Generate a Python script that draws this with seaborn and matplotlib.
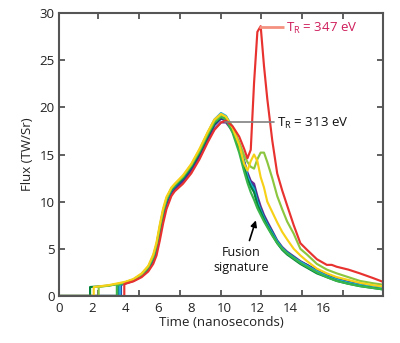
import matplotlib
matplotlib.use("Agg")
import matplotlib.pyplot as plt
import seaborn as sns
import pandas as pd

# ---------------- data ----------------
grid = [4.0, 4.5, 5.0, 5.4, 5.7, 5.9, 6.1, 6.3, 6.5, 6.8, 7.0, 7.5, 8.0, 8.5, 9.0, 9.4,
        9.8, 10.1, 10.5, 10.9, 11.2, 11.4, 11.6, 11.8, 12.0, 12.2, 12.4, 12.6, 12.9,
        13.2, 13.5, 13.8, 14.2, 14.6, 15.0, 15.6, 16.2, 16.5, 16.8, 17.5, 18.2, 19.0, 19.6]

shots = ["purple", "blue", "teal", "cyan", "darkgreen", "green", "lightgreen", "yellow", "red"]
colors = ["#662d91", "#2e3192", "#00a99d", "#27aae1", "#00843d", "#39b54a", "#8cc63f", "#f7d117", "#e8322f"]

start_x = {
    "purple": [0, 3.6, 3.6],
    "blue": [0, 3.75, 3.75],
    "teal": [0, 3.65, 3.65],
    "cyan": [0, 3.7, 3.7],
    "darkgreen": [0, 1.88, 1.88, 3.0],
    "green": [0, 3.5, 3.5],
    "lightgreen": [0, 2.4, 2.4, 3.0],
    "yellow": [0, 2.1, 2.1, 3.0],
    "red": [0, 3.95, 3.95],
}
start_y = {
    "purple": [0, 0, 1.15],
    "blue": [0, 0, 1.2],
    "teal": [0, 0, 1.2],
    "cyan": [0, 0, 1.2],
    "darkgreen": [0, 0, 0.95, 1.1],
    "green": [0, 0, 1.1],
    "lightgreen": [0, 0, 0.95, 1.1],
    "yellow": [0, 0, 0.95, 1.15],
    "red": [0, 0, 1.25],
}

flux_purple = [1.3, 1.6, 2.1, 2.8, 3.7, 4.8, 6.5, 8.3, 9.7, 10.9, 11.3, 12.1, 13.3, 14.8, 16.5, 17.7,
               18.4, 18.4, 17.5, 16.0, 14.3, 13.1, 12.2, 11.9, 10.6, 9.5, 8.6, 7.9, 6.9,
               5.9, 5.2, 4.7, 4.2, 3.7, 3.3, 2.7, 2.2, 2.0, 1.8, 1.5, 1.2, 1.0, 0.85]
flux_blue = [1.35, 1.65, 2.2, 2.9, 3.9, 5.0, 6.8, 8.6, 9.9, 11.1, 11.5, 12.3, 13.5, 15.0, 16.8, 18.1,
             18.8, 18.6, 17.6, 16.0, 14.2, 12.8, 12.0, 11.6, 10.2, 9.2, 8.4, 7.7, 6.8,
             5.7, 5.0, 4.6, 4.1, 3.6, 3.3, 2.7, 2.2, 2.0, 1.8, 1.45, 1.2, 1.0, 0.85]
flux_teal = [1.4, 1.7, 2.25, 2.95, 4.0, 5.2, 7.0, 8.8, 10.1, 11.2, 11.6, 12.5, 13.7, 15.3, 17.1, 18.5,
             19.2, 19.0, 17.8, 16.0, 14.0, 12.6, 11.9, 11.4, 10.0, 9.1, 8.3, 7.6, 6.7,
             5.8, 5.1, 4.6, 4.1, 3.6, 3.2, 2.6, 2.1, 1.9, 1.75, 1.4, 1.15, 0.95, 0.8]
flux_cyan = [1.4, 1.7, 2.3, 3.0, 4.1, 5.3, 7.2, 8.9, 10.2, 11.3, 11.7, 12.6, 13.8, 15.4, 17.3, 18.7,
             19.4, 19.1, 17.9, 16.1, 14.1, 12.7, 11.8, 11.2, 9.9, 9.0, 8.2, 7.5, 6.6,
             5.7, 5.0, 4.5, 4.0, 3.6, 3.2, 2.6, 2.1, 1.9, 1.7, 1.4, 1.15, 0.95, 0.8]
flux_darkgreen = [1.4, 1.7, 2.3, 3.0, 4.1, 5.3, 7.1, 8.9, 10.2, 11.3, 11.7, 12.5, 13.7, 15.2, 17.0, 18.3,
                  19.0, 18.8, 17.5, 15.6, 13.6, 12.4, 11.6, 11.0, 9.7, 8.9, 8.1, 7.4, 6.5,
                  5.6, 4.9, 4.4, 3.9, 3.4, 3.0, 2.4, 2.0, 1.8, 1.6, 1.3, 1.05, 0.85, 0.7]
flux_green = [1.45, 1.75, 2.3, 3.05, 4.2, 5.4, 7.3, 9.0, 10.3, 11.4, 11.8, 12.6, 13.8, 15.3, 17.1, 18.4,
              19.0, 18.7, 17.3, 15.2, 13.2, 12.0, 11.0, 10.2, 9.3, 8.6, 7.9, 7.3, 6.4,
              5.6, 5.0, 4.5, 4.0, 3.5, 3.1, 2.5, 2.0, 1.8, 1.6, 1.3, 1.05, 0.85, 0.7]
flux_lightgreen = [1.45, 1.75, 2.3, 3.1, 4.2, 5.5, 7.4, 9.1, 10.3, 11.4, 11.8, 12.7, 13.9, 15.5, 17.3, 18.6,
                   19.2, 19.0, 17.9, 16.3, 14.9, 14.2, 13.7, 13.5, 14.5, 15.2, 15.2, 14.2, 12.5,
                   10.6, 9.2, 7.9, 6.6, 5.0, 4.4, 3.4, 2.8, 2.6, 2.4, 2.0, 1.6, 1.35, 1.2]
flux_yellow = [1.5, 1.8, 2.4, 3.2, 4.4, 5.7, 7.6, 9.3, 10.5, 11.5, 11.9, 12.8, 14.0, 15.6, 17.4, 18.7,
               19.3, 19.0, 17.8, 16.0, 14.0, 13.3, 14.3, 15.0, 14.3, 12.6, 11.5, 10.0, 8.9,
               7.8, 6.8, 6.0, 5.0, 4.3, 3.7, 2.9, 2.4, 2.2, 2.0, 1.7, 1.4, 1.15, 1.0]
flux_red = [1.3, 1.55, 2.0, 2.6, 3.4, 4.3, 5.9, 7.7, 9.2, 10.6, 11.1, 11.9, 13.0, 14.5, 16.3, 17.6,
            18.4, 18.6, 18.0, 16.9, 15.6, 14.6, 15.5, 22.6, 28.0, 28.6, 24.4, 20.9, 16.5,
            13.0, 11.2, 9.6, 7.5, 5.6, 4.9, 3.9, 3.3, 3.3, 3.1, 2.8, 2.4, 1.9, 1.5]

flux = {"purple": flux_purple, "blue": flux_blue, "teal": flux_teal, "cyan": flux_cyan,
        "darkgreen": flux_darkgreen, "green": flux_green, "lightgreen": flux_lightgreen,
        "yellow": flux_yellow, "red": flux_red}

x_tick_values = [0, 2, 4, 6, 8, 10, 12, 14, 16]
x_tick_marks = [2.36, 4.85, 7.33, 9.82, 12.24, 14.73, 17.21]
y_tick_values = [0, 5, 10, 15, 20, 25, 30]

# ---------------- build table ----------------
rows = []
for s in shots:
    xs = start_x[s] + grid
    ys = start_y[s] + flux[s]
    for a, b in zip(xs, ys):
        rows.append({"time": a, "flux": b, "shot": s})
df = pd.DataFrame(rows)

# ---------------- plot ----------------
sns.set_style("white")
plt.rcParams["font.family"] = ["Open Sans", "DejaVu Sans"]
plt.rcParams["mathtext.fontset"] = "custom"
plt.rcParams["mathtext.rm"] = "Open Sans"

fig = plt.figure(figsize=(4.0, 3.43), dpi=100)
ax = fig.add_axes([59 / 400, 47 / 343, 324 / 400, 283 / 343])

sns.lineplot(data=df, x="time", y="flux", hue="shot", hue_order=shots,
             palette=dict(zip(shots, colors)), estimator=None, sort=False,
             units="shot", legend=False, linewidth=1.55, ax=ax)
for ln in ax.lines:
    ln.set_solid_joinstyle("round")

ax.set_xlim(0, 19.6)
ax.set_ylim(0, 30)

ax.set_xticks(x_tick_values)
ax.set_xticklabels([str(v) for v in x_tick_values])
ax.set_xticks(x_tick_marks, minor=True)
ax.tick_params(axis="x", which="major", length=0, pad=4, labelsize=9.5, colors="#222222")
ax.tick_params(axis="x", which="minor", direction="in", length=4, width=1.2,
               top=True, bottom=True, color="#444444")
ax.set_yticks(y_tick_values)
ax.tick_params(axis="y", which="major", direction="in", length=4, width=1.2,
               left=True, right=True, pad=3, labelsize=9.5, colors="#222222")
ax.tick_params(axis="y", which="major", color="#444444")

for sp in ax.spines.values():
    sp.set_color("#555555")
    sp.set_linewidth(1.5)

ax.set_xlabel("Time (nanoseconds)", fontsize=9.5, labelpad=1, color="#222222")
ax.set_ylabel("Flux (TW/Sr)", fontsize=9.5, labelpad=4, color="#222222")

# annotations
ax.plot([12.1, 13.6], [28.5, 28.5], color="#f4907f", lw=2, solid_capstyle="butt")
ax.text(13.75, 28.4, "T$_\\mathregular{R}$ = 347 eV", color="#cf1d5c", fontsize=9.5,
        va="center", ha="left")
ax.plot([10.05, 13.0], [18.4, 18.4], color="#808080", lw=1.2)
ax.text(13.2, 18.3, "T$_\\mathregular{R}$ = 313 eV", color="#111111", fontsize=9.5,
        va="center", ha="left")
ax.text(11.03, 3.8, "Fusion\nsignature", color="#111111", fontsize=9, ha="center",
        va="center", linespacing=1.15)
ax.annotate("", xy=(11.96, 8.3), xytext=(11.47, 5.6),
            arrowprops=dict(arrowstyle="-|>", color="black", lw=1.2, mutation_scale=9))

fig.savefig("out.png", dpi=100)
